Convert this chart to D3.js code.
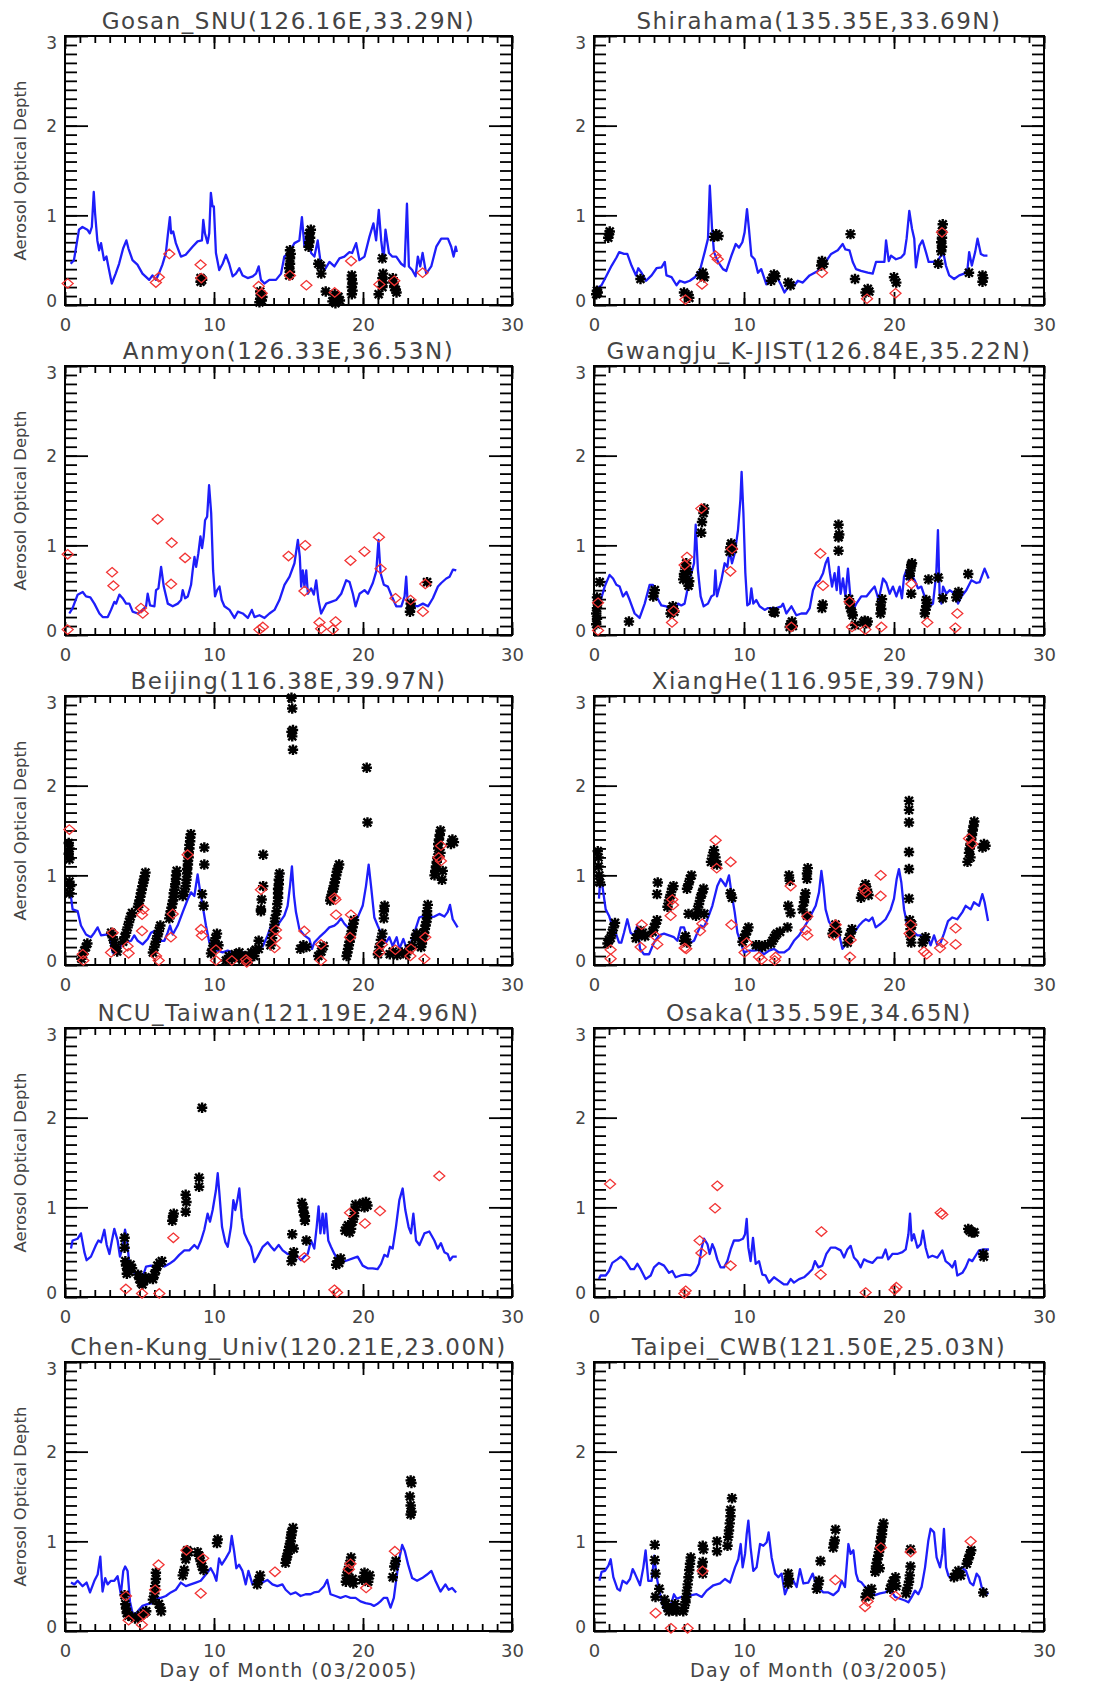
<!DOCTYPE html>
<html>
<head>
<meta charset="utf-8">
<script src="https://cdn.jsdelivr.net/npm/d3@7"></script>
<style>
  body { margin: 0; background: #fff; }
</style>
</head>
<body>
<div id="chart"></div>
<script>
// Model AOD (line), AERONET AOD (asterisks), MODIS AOD (diamonds)
// x = day of month (03/2005), y = aerosol optical depth

var gosanModel = [[0.38,0.46],[0.6,0.5],[0.94,0.84],[1.17,0.87],[1.5,0.84],[1.66,0.8],[1.8,0.87],[1.93,1.26],[2.02,1.02],[2.17,0.72],[2.29,0.61],[2.42,0.69],[2.62,0.5],[2.78,0.54],[2.91,0.43],[3.14,0.24],[3.4,0.35],[3.63,0.46],[3.9,0.63],[4.12,0.72],[4.26,0.63],[4.53,0.5],[4.86,0.45],[5.2,0.35],[5.65,0.28],[5.87,0.33],[6.1,0.28],[6.3,0.35],[6.54,0.45],[6.77,0.58],[6.9,0.78],[7.04,0.98],[7.12,0.8],[7.26,0.82],[7.44,0.69],[7.78,0.54],[8.1,0.56],[8.56,0.65],[8.9,0.71],[9.19,0.72],[9.28,0.95],[9.39,0.8],[9.57,0.69],[9.68,0.8],[9.79,1.25],[9.9,1.1],[9.99,1.1],[10.13,0.58],[10.35,0.39],[10.58,0.46],[10.8,0.56],[11.02,0.46],[11.25,0.32],[11.47,0.35],[11.7,0.41],[11.92,0.33],[12.26,0.3],[12.6,0.32],[12.82,0.35],[13.0,0.43],[13.15,0.28],[13.38,0.24],[13.71,0.28],[14.16,0.28],[14.5,0.35],[14.72,0.54],[15.06,0.59],[15.4,0.69],[15.73,0.72],[15.9,0.98],[16.07,0.65],[16.3,0.76],[16.52,0.58],[16.74,0.54],[16.96,0.72],[17.19,0.43],[17.41,0.39],[17.75,0.48],[18.08,0.43],[18.42,0.52],[18.75,0.54],[19.09,0.59],[19.27,0.58],[19.54,0.69],[19.76,0.5],[20.1,0.54],[20.43,0.76],[20.7,0.91],[20.88,0.72],[21.06,1.06],[21.22,0.72],[21.38,0.5],[21.51,0.84],[21.74,0.58],[21.96,0.54],[22.23,0.54],[22.56,0.46],[22.79,0.43],[22.95,1.13],[23.08,0.43],[23.3,0.39],[23.53,0.32],[23.68,0.54],[23.84,0.43],[24.0,0.58],[24.24,0.35],[24.58,0.43],[24.92,0.65],[25.25,0.74],[25.7,0.74],[25.92,0.65],[26.08,0.54],[26.22,0.65],[26.3,0.59]];
var gosanAeronet = [[9.1,0.26],[9.1,0.3],[9.2,0.28],[13.05,0.03],[13.1,0.07],[13.15,0.11],[13.2,0.05],[13.25,0.09],[13.1,0.15],[15.05,0.33],[15.1,0.37],[15.05,0.41],[15.1,0.46],[15.1,0.52],[15.15,0.57],[15.1,0.61],[16.35,0.65],[16.4,0.7],[16.45,0.75],[16.4,0.8],[16.5,0.84],[17.0,0.46],[17.15,0.44],[17.2,0.35],[17.5,0.15],[17.95,0.04],[18.05,0.08],[18.15,0.02],[18.25,0.06],[18.35,0.09],[18.1,0.12],[18.45,0.05],[19.25,0.12],[19.3,0.16],[19.25,0.2],[19.3,0.24],[19.25,0.29],[19.25,0.33],[21.05,0.12],[21.3,0.52],[21.3,0.2],[21.35,0.25],[21.3,0.3],[21.35,0.35],[22.0,0.3],[22.05,0.25],[22.1,0.2],[22.2,0.17],[22.25,0.14]];
var gosanModis = [[0.18,0.24],[6.1,0.25],[6.3,0.31],[7.0,0.57],[9.1,0.45],[9.15,0.3],[13.0,0.21],[13.2,0.13],[15.1,0.33],[16.2,0.22],[18.1,0.14],[19.2,0.49],[21.1,0.23],[22.1,0.27],[24.0,0.36]];

var shirahamaModel = [[0.18,0.18],[0.5,0.22],[0.84,0.33],[1.18,0.44],[1.5,0.53],[1.68,0.59],[2.0,0.57],[2.22,0.57],[2.5,0.44],[2.8,0.33],[2.95,0.41],[3.17,0.36],[3.46,0.27],[3.84,0.33],[4.17,0.41],[4.5,0.42],[4.72,0.48],[4.83,0.33],[5.17,0.31],[5.5,0.22],[5.72,0.27],[6.05,0.25],[6.39,0.27],[6.72,0.31],[7.05,0.38],[7.38,0.59],[7.6,0.74],[7.72,1.33],[7.87,0.85],[8.0,0.59],[8.27,0.48],[8.6,0.4],[8.82,0.38],[9.16,0.55],[9.45,0.68],[9.67,0.64],[9.89,0.7],[10.04,0.81],[10.2,1.07],[10.33,0.85],[10.49,0.55],[10.71,0.51],[10.93,0.36],[11.15,0.4],[11.49,0.23],[11.82,0.27],[12.15,0.33],[12.48,0.22],[12.7,0.14],[13.04,0.22],[13.37,0.22],[13.59,0.27],[13.92,0.25],[14.37,0.33],[14.92,0.38],[15.25,0.44],[15.48,0.49],[15.81,0.57],[16.25,0.61],[16.58,0.68],[16.76,0.62],[17.03,0.61],[17.25,0.48],[17.47,0.4],[17.8,0.38],[18.25,0.36],[18.58,0.35],[18.8,0.48],[19.13,0.48],[19.36,0.48],[19.47,0.72],[19.65,0.49],[19.8,0.55],[20.13,0.51],[20.47,0.53],[20.69,0.57],[20.84,0.74],[21.02,1.05],[21.2,0.85],[21.35,0.74],[21.46,0.42],[21.69,0.66],[21.9,0.72],[22.13,0.59],[22.31,0.48],[22.57,0.48],[22.9,0.49],[23.13,0.55],[23.28,0.59],[23.46,0.44],[23.68,0.33],[24.01,0.29],[24.35,0.33],[24.68,0.35],[24.9,0.4],[25.01,0.59],[25.19,0.44],[25.41,0.59],[25.57,0.74],[25.79,0.57],[26.01,0.55],[26.23,0.55]];
var shirahamaAeronet = [[0.15,0.12],[0.2,0.16],[0.25,0.14],[0.95,0.75],[1.0,0.79],[1.05,0.82],[3.1,0.29],[6.0,0.14],[6.3,0.11],[6.35,0.08],[7.1,0.33],[7.25,0.36],[7.35,0.31],[8.0,0.76],[8.15,0.79],[8.3,0.77],[11.8,0.27],[11.9,0.3],[12.0,0.34],[12.1,0.32],[12.95,0.25],[13.1,0.22],[15.15,0.44],[15.2,0.49],[15.3,0.46],[17.1,0.79],[17.4,0.29],[18.1,0.14],[18.25,0.18],[18.35,0.15],[20.0,0.31],[20.15,0.25],[22.95,0.46],[23.15,0.6],[23.2,0.65],[23.15,0.7],[23.2,0.75],[23.2,0.82],[23.25,0.9],[25.0,0.36],[25.9,0.26],[25.95,0.3],[25.9,0.33]];
var shirahamaModis = [[6.1,0.06],[7.2,0.23],[8.1,0.55],[8.25,0.51],[15.2,0.36],[18.2,0.07],[20.1,0.13],[23.2,0.81]];

var anmyonModel = [[0.29,0.24],[0.51,0.3],[0.85,0.45],[1.19,0.48],[1.41,0.43],[1.7,0.42],[1.97,0.35],[2.31,0.24],[2.53,0.2],[2.87,0.2],[3.09,0.28],[3.31,0.37],[3.43,0.35],[3.65,0.45],[3.87,0.41],[4.1,0.35],[4.32,0.35],[4.54,0.26],[4.88,0.24],[5.22,0.28],[5.44,0.32],[5.55,0.46],[5.71,0.33],[6.0,0.32],[6.11,0.5],[6.27,0.52],[6.45,0.76],[6.63,0.54],[6.9,0.35],[7.23,0.32],[7.57,0.35],[7.79,0.39],[7.9,0.5],[8.06,0.41],[8.24,0.43],[8.46,0.56],[8.57,0.72],[8.69,0.87],[8.8,0.76],[8.95,0.91],[9.09,1.1],[9.2,0.97],[9.31,1.1],[9.4,1.28],[9.54,1.32],[9.67,1.67],[9.81,1.36],[9.94,0.72],[10.07,0.43],[10.21,0.5],[10.37,0.54],[10.52,0.39],[10.7,0.32],[11.04,0.28],[11.37,0.19],[11.6,0.26],[11.93,0.24],[12.27,0.19],[12.54,0.28],[12.72,0.2],[13.05,0.22],[13.39,0.19],[13.72,0.24],[14.06,0.28],[14.39,0.39],[14.73,0.56],[15.07,0.65],[15.4,0.8],[15.63,1.06],[15.76,0.87],[15.85,0.54],[15.96,0.72],[16.07,0.54],[16.19,0.72],[16.3,0.46],[16.52,0.52],[16.7,0.45],[16.86,0.61],[17.01,0.39],[17.19,0.24],[17.53,0.35],[17.86,0.37],[18.2,0.39],[18.54,0.46],[18.87,0.61],[19.1,0.59],[19.32,0.46],[19.5,0.32],[19.77,0.46],[20.1,0.5],[20.33,0.46],[20.66,0.58],[20.89,0.71],[21.04,1.06],[21.18,0.69],[21.4,0.56],[21.67,0.54],[21.94,0.43],[22.23,0.32],[22.57,0.32],[22.79,0.43],[22.9,0.65],[23.01,0.32],[23.35,0.33],[23.68,0.32],[24.02,0.35],[24.36,0.32],[24.69,0.41],[25.03,0.54],[25.25,0.58],[25.59,0.63],[25.81,0.65],[26.04,0.73],[26.26,0.72]];
var anmyonAeronet = [[23.15,0.26],[23.2,0.3],[23.2,0.35],[24.3,0.59]];
var anmyonModis = [[0.18,0.9],[0.18,0.06],[3.16,0.7],[3.25,0.55],[5.1,0.3],[5.22,0.24],[6.22,1.29],[7.16,1.03],[7.12,0.57],[8.06,0.86],[13.05,0.06],[13.28,0.09],[15.0,0.88],[16.12,1.0],[16.07,0.49],[17.08,0.14],[17.19,0.07],[17.98,0.06],[18.16,0.15],[19.16,0.83],[20.1,0.93],[21.07,1.09],[21.18,0.74],[22.18,0.41],[23.19,0.39],[24.18,0.57],[24.02,0.26]];

var gwangjuModel = [[0.16,0.32],[0.38,0.35],[0.71,0.54],[1.04,0.67],[1.27,0.63],[1.49,0.56],[1.71,0.54],[1.93,0.43],[2.16,0.48],[2.38,0.39],[2.71,0.24],[3.04,0.19],[3.38,0.35],[3.71,0.56],[3.93,0.56],[4.16,0.43],[4.49,0.33],[4.82,0.32],[5.16,0.26],[5.38,0.26],[5.6,0.35],[5.82,0.33],[6.04,0.35],[6.27,0.54],[6.49,0.69],[6.67,0.8],[6.78,1.23],[6.93,0.72],[7.11,0.43],[7.31,0.32],[7.6,0.35],[7.82,0.43],[8.0,0.45],[8.09,0.72],[8.2,0.43],[8.49,0.61],[8.71,0.8],[8.89,0.76],[9.04,0.95],[9.2,0.8],[9.38,0.91],[9.6,1.17],[9.76,1.51],[9.84,1.82],[9.96,1.36],[10.09,0.69],[10.22,0.33],[10.38,0.35],[10.49,0.52],[10.62,0.35],[10.82,0.39],[11.04,0.32],[11.38,0.28],[11.6,0.3],[11.82,0.3],[12.16,0.3],[12.49,0.32],[12.6,0.35],[12.82,0.24],[13.16,0.32],[13.49,0.22],[13.82,0.24],[14.16,0.24],[14.38,0.3],[14.6,0.5],[14.82,0.58],[15.04,0.61],[15.27,0.69],[15.44,0.8],[15.6,0.86],[15.73,0.69],[15.87,0.54],[16.04,0.69],[16.18,0.5],[16.31,0.76],[16.44,0.46],[16.6,0.63],[16.76,0.43],[16.93,0.74],[17.11,0.39],[17.27,0.28],[17.49,0.35],[17.82,0.43],[18.16,0.43],[18.49,0.5],[18.71,0.54],[18.98,0.39],[19.27,0.63],[19.49,0.58],[19.71,0.46],[19.93,0.54],[20.16,0.43],[20.38,0.54],[20.53,0.41],[20.67,0.65],[20.82,0.72],[20.98,0.61],[21.16,0.67],[21.38,0.61],[21.6,0.52],[21.82,0.54],[22.04,0.43],[22.38,0.32],[22.6,0.35],[22.82,0.69],[22.93,1.17],[23.04,0.46],[23.16,0.35],[23.27,0.54],[23.49,0.46],[23.71,0.5],[24.04,0.46],[24.27,0.35],[24.49,0.43],[24.82,0.5],[25.16,0.61],[25.49,0.58],[25.71,0.59],[26.04,0.74],[26.31,0.63]];
var gwangjuAeronet = [[0.15,0.12],[0.2,0.18],[0.15,0.24],[0.2,0.3],[0.25,0.36],[0.2,0.42],[0.38,0.59],[2.33,0.15],[3.95,0.43],[4.0,0.47],[4.05,0.5],[5.1,0.24],[5.15,0.28],[5.25,0.32],[5.35,0.26],[5.95,0.62],[6.0,0.68],[6.1,0.75],[6.15,0.8],[6.3,0.55],[6.35,0.6],[6.25,0.7],[7.15,1.14],[7.2,1.26],[7.3,1.36],[7.35,1.41],[9.05,0.93],[9.1,0.98],[9.15,1.02],[9.25,0.96],[11.95,0.26],[12.05,0.25],[13.05,0.09],[13.1,0.12],[13.2,0.15],[13.25,0.1],[15.2,0.3],[15.25,0.34],[16.3,0.94],[16.3,1.09],[16.35,1.12],[16.3,1.23],[17.0,0.4],[17.05,0.35],[17.1,0.3],[17.2,0.25],[17.25,0.22],[17.4,0.11],[17.95,0.14],[18.05,0.16],[18.15,0.13],[18.25,0.15],[19.1,0.24],[19.15,0.29],[19.1,0.34],[19.2,0.4],[21.05,0.66],[21.1,0.72],[21.15,0.78],[21.2,0.8],[21.15,0.46],[22.05,0.24],[22.1,0.28],[22.15,0.32],[22.2,0.36],[22.15,0.39],[22.3,0.62],[22.95,0.64],[23.25,0.41],[24.15,0.42],[24.25,0.45],[24.3,0.48],[24.95,0.68]];
var gwangjuModis = [[0.27,0.05],[0.27,0.36],[5.2,0.14],[5.31,0.27],[6.2,0.87],[6.04,0.78],[7.16,1.41],[9.2,0.96],[9.09,0.71],[13.16,0.09],[15.09,0.91],[15.27,0.55],[17.04,0.37],[17.2,0.09],[18.09,0.06],[19.16,0.09],[21.16,0.57],[22.22,0.14],[24.09,0.08],[24.22,0.24]];

var beijingModel = [[0.34,0.84],[0.51,0.62],[0.85,0.6],[1.07,0.44],[1.41,0.34],[1.74,0.31],[1.97,0.36],[2.19,0.42],[2.42,0.33],[2.75,0.34],[2.98,0.34],[3.2,0.14],[3.53,0.12],[3.76,0.21],[4.09,0.25],[4.43,0.27],[4.65,0.33],[4.88,0.27],[5.21,0.23],[5.55,0.29],[5.77,0.36],[6.0,0.38],[6.11,0.31],[6.33,0.27],[6.67,0.27],[6.89,0.36],[7.05,0.44],[7.23,0.34],[7.56,0.44],[7.9,0.59],[8.23,0.73],[8.46,0.81],[8.68,0.77],[8.9,1.01],[9.08,0.81],[9.24,0.66],[9.46,0.44],[9.69,0.25],[9.91,0.18],[10.25,0.16],[10.58,0.14],[10.92,0.16],[11.25,0.14],[11.59,0.12],[11.92,0.14],[12.26,0.13],[12.6,0.16],[12.93,0.18],[13.27,0.21],[13.6,0.33],[13.83,0.44],[14.05,0.38],[14.38,0.47],[14.72,0.55],[14.94,0.66],[15.1,0.88],[15.23,1.1],[15.37,0.77],[15.5,0.59],[15.73,0.4],[16.06,0.33],[16.4,0.29],[16.58,0.18],[16.73,0.25],[17.07,0.31],[17.4,0.36],[17.74,0.42],[18.08,0.44],[18.3,0.47],[18.52,0.52],[18.75,0.46],[18.97,0.42],[19.31,0.46],[19.64,0.53],[19.98,0.66],[20.2,0.88],[20.38,1.12],[20.54,0.88],[20.76,0.53],[20.98,0.44],[21.27,0.33],[21.54,0.25],[21.77,0.31],[21.99,0.21],[22.26,0.31],[22.44,0.18],[22.71,0.29],[22.93,0.18],[23.15,0.21],[23.45,0.36],[23.78,0.53],[24.12,0.55],[24.45,0.53],[24.79,0.54],[25.12,0.57],[25.46,0.54],[25.68,0.59],[25.84,0.67],[26.02,0.51],[26.35,0.42]];
var beijingAeronet = [[0.25,1.36],[0.3,1.3],[0.25,1.24],[0.3,1.18],[0.3,0.93],[0.35,0.88],[0.3,0.8],[1.1,0.07],[1.2,0.12],[1.3,0.16],[1.4,0.2],[1.5,0.24],[3.1,0.36],[3.2,0.31],[3.3,0.25],[3.4,0.2],[3.5,0.15],[3.9,0.26],[4.0,0.31],[4.1,0.36],[4.2,0.42],[4.3,0.48],[4.4,0.54],[4.5,0.58],[4.9,0.65],[4.95,0.68],[5.0,0.72],[5.05,0.76],[5.1,0.8],[5.15,0.84],[5.2,0.88],[5.25,0.92],[5.3,0.95],[5.35,0.99],[5.4,1.03],[5.9,0.14],[6.0,0.2],[6.1,0.26],[6.2,0.32],[6.3,0.38],[6.4,0.44],[7.0,0.52],[7.05,0.56],[7.1,0.6],[7.15,0.64],[7.2,0.68],[7.25,0.72],[7.3,0.76],[7.3,0.8],[7.35,0.84],[7.4,0.9],[7.45,0.96],[7.45,1.0],[7.5,1.05],[7.9,0.77],[8.0,0.82],[8.1,0.88],[8.15,0.95],[8.2,1.02],[8.2,1.07],[8.25,1.12],[8.25,1.16],[8.3,1.2],[8.3,1.25],[8.35,1.3],[8.35,1.34],[8.4,1.38],[8.4,1.42],[8.45,1.46],[9.35,1.31],[9.35,1.12],[9.2,0.79],[9.3,0.66],[9.8,0.13],[9.9,0.18],[10.0,0.24],[10.1,0.3],[10.2,0.35],[10.3,0.22],[10.8,0.05],[11.0,0.1],[11.2,0.07],[11.4,0.12],[11.6,0.09],[11.7,0.14],[11.9,0.06],[12.1,0.1],[12.3,0.05],[12.5,0.14],[12.7,0.1],[12.8,0.17],[13.0,0.18],[13.0,0.27],[13.15,0.6],[13.15,0.62],[13.2,0.73],[13.3,0.88],[13.3,1.23],[13.8,0.22],[13.9,0.3],[14.0,0.38],[14.05,0.45],[14.1,0.52],[14.2,0.6],[14.25,0.68],[14.3,0.75],[14.3,0.8],[14.3,0.85],[14.35,0.9],[14.35,0.95],[14.4,1.02],[15.2,2.98],[15.25,2.86],[15.2,2.6],[15.25,2.55],[15.3,2.62],[15.3,2.4],[15.8,0.18],[16.0,0.22],[16.2,0.2],[17.0,0.1],[17.2,0.15],[17.35,0.21],[17.8,0.72],[17.85,0.75],[17.9,0.78],[17.95,0.82],[18.0,0.85],[18.05,0.88],[18.1,0.92],[18.15,0.96],[18.2,1.0],[18.25,1.04],[18.3,1.07],[18.4,1.12],[18.9,0.1],[18.95,0.14],[19.0,0.18],[19.05,0.22],[19.1,0.26],[19.15,0.3],[19.2,0.34],[19.25,0.38],[19.3,0.42],[19.35,0.46],[19.4,0.5],[20.25,2.2],[20.3,1.59],[21.0,0.12],[21.1,0.2],[21.2,0.28],[21.3,0.35],[21.4,0.52],[21.4,0.6],[21.45,0.66],[21.8,0.12],[22.0,0.15],[22.3,0.11],[22.6,0.14],[22.9,0.12],[23.1,0.18],[23.3,0.22],[23.5,0.3],[23.6,0.35],[23.9,0.2],[23.95,0.24],[24.0,0.28],[24.05,0.32],[24.1,0.36],[24.15,0.4],[24.2,0.44],[24.25,0.48],[24.3,0.52],[24.3,0.56],[24.3,0.6],[24.35,0.67],[24.8,1.0],[24.85,1.05],[24.9,1.1],[24.95,1.15],[25.0,1.2],[25.05,1.3],[25.05,1.35],[25.1,1.4],[25.15,1.45],[25.2,1.5],[25.3,0.95],[25.35,1.05],[25.2,1.25],[25.9,1.35],[26.0,1.4],[26.1,1.37]];
var beijingModis = [[0.29,1.51],[1.19,0.12],[1.23,0.05],[3.2,0.36],[3.09,0.14],[4.2,0.21],[4.27,0.13],[5.26,0.62],[5.17,0.56],[5.17,0.38],[6.11,0.1],[6.29,0.05],[7.23,0.57],[7.11,0.31],[8.23,1.23],[9.13,0.4],[9.19,0.33],[10.13,0.17],[10.13,0.05],[11.2,0.05],[12.15,0.06],[12.2,0.03],[13.15,0.84],[14.16,0.39],[14.16,0.3],[14.07,0.19],[16.06,0.38],[17.18,0.23],[17.18,0.05],[18.08,0.75],[18.15,0.73],[18.19,0.56],[19.19,0.56],[19.13,0.31],[21.27,0.23],[21.1,0.14],[22.17,0.17],[23.22,0.18],[23.18,0.1],[24.18,0.31],[24.12,0.07],[25.23,1.33],[25.08,1.2],[25.23,1.16]];

var xiangheModel = [[0.33,0.74],[0.44,1.01],[0.56,0.88],[0.78,0.62],[1.0,0.55],[1.22,0.44],[1.44,0.36],[1.67,0.25],[1.82,0.25],[2.0,0.36],[2.22,0.51],[2.44,0.36],[2.67,0.33],[2.89,0.44],[3.07,0.18],[3.33,0.12],[3.67,0.12],[4.0,0.25],[4.33,0.33],[4.67,0.35],[5.0,0.33],[5.33,0.31],[5.56,0.27],[5.78,0.42],[6.0,0.42],[6.22,0.29],[6.44,0.25],[6.67,0.27],[6.89,0.36],[7.11,0.44],[7.33,0.42],[7.56,0.51],[7.89,0.66],[8.22,0.88],[8.44,0.96],[8.62,0.92],[8.78,0.88],[9.0,1.0],[9.16,0.81],[9.38,0.59],[9.56,0.36],[9.78,0.25],[10.0,0.14],[10.33,0.16],[10.67,0.16],[11.0,0.17],[11.33,0.12],[11.67,0.16],[12.0,0.18],[12.33,0.14],[12.67,0.14],[13.0,0.18],[13.33,0.27],[13.67,0.33],[14.0,0.42],[14.33,0.51],[14.56,0.59],[14.78,0.66],[15.0,0.81],[15.16,1.05],[15.29,0.88],[15.44,0.62],[15.67,0.48],[16.0,0.4],[16.33,0.35],[16.56,0.18],[16.78,0.23],[17.0,0.29],[17.33,0.36],[17.67,0.44],[17.89,0.48],[18.11,0.51],[18.33,0.49],[18.56,0.53],[18.78,0.42],[19.11,0.46],[19.44,0.51],[19.78,0.62],[20.0,0.74],[20.18,0.96],[20.33,1.07],[20.49,0.92],[20.67,0.62],[20.89,0.44],[21.22,0.38],[21.56,0.33],[21.78,0.33],[22.0,0.25],[22.22,0.33],[22.44,0.22],[22.67,0.33],[22.89,0.22],[23.11,0.25],[23.33,0.35],[23.6,0.49],[23.89,0.53],[24.22,0.51],[24.56,0.59],[24.78,0.66],[25.11,0.62],[25.33,0.7],[25.67,0.66],[25.89,0.79],[26.04,0.7],[26.27,0.49]];
var xiangheAeronet = [[0.25,1.27],[0.3,1.2],[0.3,1.1],[0.35,1.0],[0.4,0.92],[0.9,0.24],[1.0,0.28],[1.1,0.3],[1.2,0.36],[1.3,0.42],[1.4,0.47],[2.8,0.3],[2.95,0.34],[3.1,0.38],[3.25,0.36],[3.4,0.32],[3.9,0.37],[4.0,0.42],[4.1,0.46],[4.2,0.5],[4.2,0.79],[4.25,0.92],[4.9,0.65],[5.0,0.72],[5.1,0.78],[5.2,0.85],[5.3,0.88],[6.0,0.27],[6.1,0.32],[6.2,0.25],[6.3,0.57],[6.2,0.85],[6.3,0.9],[6.4,0.96],[6.5,1.0],[6.8,0.55],[6.9,0.62],[7.0,0.68],[7.1,0.75],[7.2,0.8],[7.3,0.85],[7.35,0.57],[7.8,1.15],[7.9,1.22],[8.0,1.28],[8.1,1.2],[8.2,1.12],[9.1,0.8],[9.2,0.75],[9.9,0.26],[10.0,0.3],[10.1,0.34],[10.2,0.38],[10.3,0.42],[10.8,0.22],[11.0,0.22],[11.2,0.2],[11.4,0.22],[11.8,0.24],[11.9,0.27],[12.0,0.3],[12.1,0.33],[12.2,0.35],[12.4,0.37],[12.9,0.42],[12.95,0.66],[13.1,0.58],[13.0,1.0],[13.05,0.94],[13.9,0.62],[14.0,0.7],[14.05,0.76],[14.1,0.8],[14.2,0.55],[14.2,0.96],[14.2,1.02],[14.25,1.08],[15.9,0.35],[16.0,0.4],[16.1,0.45],[16.2,0.37],[16.9,0.25],[17.0,0.3],[17.1,0.35],[17.2,0.4],[17.8,0.75],[17.9,0.8],[18.0,0.86],[18.1,0.9],[18.2,0.84],[18.3,0.78],[21.0,1.83],[21.0,1.73],[21.0,1.59],[21.0,1.26],[21.0,1.07],[21.0,0.74],[21.05,0.5],[21.1,0.4],[21.1,0.32],[21.15,0.25],[21.2,0.45],[21.9,0.25],[22.0,0.28],[22.1,0.31],[24.9,1.15],[25.0,1.25],[25.05,1.3],[25.1,1.35],[25.15,1.4],[25.2,1.45],[25.25,1.5],[25.3,1.55],[25.35,1.6],[25.1,1.2],[25.9,1.31],[26.0,1.35],[26.1,1.33]];
var xiangheModis = [[1.11,0.17],[1.11,0.07],[3.18,0.45],[3.11,0.2],[4.11,0.32],[4.22,0.23],[5.11,0.55],[5.22,0.73],[5.27,0.67],[6.04,0.19],[6.15,0.18],[7.07,0.38],[7.22,0.46],[8.11,1.39],[8.18,1.08],[9.11,1.15],[9.16,0.45],[10.18,0.25],[10.04,0.14],[11.0,0.09],[11.18,0.06],[12.11,0.09],[12.05,0.05],[13.11,0.88],[14.22,0.54],[14.11,0.39],[14.22,0.33],[16.11,0.45],[16.0,0.33],[17.11,0.28],[17.07,0.09],[18.0,0.85],[18.11,0.81],[19.11,1.0],[19.11,0.77],[21.11,0.45],[21.04,0.35],[22.0,0.15],[22.18,0.12],[23.22,0.25],[23.07,0.19],[24.11,0.41],[24.11,0.23],[25.0,1.41],[25.22,1.35]];

var ncuModel = [[0.4,0.54],[0.51,0.63],[0.85,0.65],[1.07,0.71],[1.3,0.5],[1.45,0.41],[1.74,0.45],[2.08,0.58],[2.24,0.63],[2.42,0.61],[2.64,0.75],[2.8,0.58],[2.98,0.48],[3.15,0.63],[3.31,0.76],[3.53,0.63],[3.69,0.45],[3.87,0.56],[4.03,0.75],[4.16,0.63],[4.32,0.37],[4.54,0.3],[4.77,0.24],[4.99,0.28],[5.21,0.22],[5.44,0.34],[5.77,0.35],[6.11,0.34],[6.33,0.37],[6.67,0.34],[7.0,0.37],[7.34,0.41],[7.67,0.47],[8.01,0.52],[8.34,0.52],[8.68,0.58],[8.9,0.54],[9.13,0.63],[9.35,0.75],[9.57,0.93],[9.73,0.84],[9.91,0.97],[10.13,1.19],[10.25,1.38],[10.36,1.16],[10.54,0.78],[10.76,0.61],[10.92,0.56],[11.14,0.78],[11.3,1.08],[11.43,0.97],[11.59,1.1],[11.7,1.21],[11.86,0.89],[12.04,0.71],[12.26,0.63],[12.48,0.56],[12.71,0.39],[12.93,0.45],[13.27,0.56],[13.6,0.61],[13.83,0.56],[14.05,0.52],[14.34,0.58],[14.61,0.52],[14.94,0.48],[15.28,0.48],[15.62,0.45],[15.84,0.41],[16.06,0.45],[16.29,0.48],[16.51,0.63],[16.73,0.54],[16.89,0.78],[17.02,1.01],[17.14,0.71],[17.29,0.93],[17.4,0.71],[17.52,0.93],[17.67,0.63],[17.85,0.56],[18.08,0.48],[18.3,0.43],[18.63,0.39],[18.97,0.41],[19.31,0.43],[19.64,0.45],[19.98,0.35],[20.31,0.32],[20.65,0.32],[20.98,0.31],[21.21,0.37],[21.43,0.47],[21.65,0.45],[21.81,0.56],[21.99,0.54],[22.21,0.78],[22.44,1.08],[22.66,1.21],[22.84,0.97],[23.06,0.78],[23.22,0.71],[23.38,0.93],[23.56,0.63],[23.79,0.58],[24.12,0.71],[24.45,0.73],[24.79,0.63],[25.01,0.54],[25.23,0.6],[25.46,0.5],[25.68,0.48],[25.84,0.41],[26.02,0.45],[26.29,0.45]];
var ncuAeronet = [[4.0,0.66],[4.0,0.55],[4.05,0.4],[4.1,0.35],[4.2,0.3],[4.3,0.28],[4.4,0.36],[4.5,0.32],[4.15,0.26],[4.9,0.25],[5.0,0.2],[5.1,0.16],[5.2,0.14],[5.3,0.18],[5.4,0.22],[5.5,0.2],[5.9,0.2],[6.0,0.25],[6.1,0.3],[6.2,0.35],[6.35,0.38],[6.5,0.4],[7.2,0.85],[7.25,0.9],[7.3,0.93],[8.1,1.14],[8.15,1.06],[8.1,0.95],[9.0,1.33],[9.0,1.23],[9.2,2.11],[15.25,0.7],[15.2,0.4],[15.3,0.45],[15.35,0.5],[15.9,1.05],[16.0,1.0],[16.0,0.95],[16.1,0.9],[16.1,0.85],[16.2,0.63],[18.2,0.36],[18.3,0.4],[18.4,0.38],[18.5,0.43],[18.8,0.74],[18.9,0.77],[19.0,0.8],[19.1,0.72],[19.2,0.76],[19.3,0.84],[19.4,0.9],[19.45,0.97],[19.5,1.03],[20.0,1.05],[20.1,1.0],[20.2,1.06],[20.3,1.02]];
var ncuModis = [[4.09,0.09],[5.17,0.04],[6.33,0.04],[7.27,0.66],[16.06,0.44],[18.08,0.08],[18.26,0.05],[19.13,0.94],[20.13,0.82],[21.14,0.96],[25.12,1.35]];

var osakaModel = [[0.33,0.2],[0.44,0.24],[0.78,0.24],[1.0,0.29],[1.22,0.38],[1.56,0.42],[1.78,0.45],[2.11,0.4],[2.44,0.31],[2.67,0.31],[2.89,0.37],[3.11,0.31],[3.44,0.2],[3.78,0.24],[4.0,0.33],[4.33,0.38],[4.67,0.35],[5.0,0.27],[5.22,0.29],[5.44,0.22],[5.78,0.24],[6.11,0.25],[6.44,0.24],[6.78,0.29],[7.0,0.37],[7.18,0.55],[7.33,0.65],[7.56,0.59],[7.71,0.48],[7.89,0.59],[8.04,0.53],[8.22,0.42],[8.44,0.33],[8.67,0.33],[8.89,0.4],[9.11,0.53],[9.33,0.63],[9.67,0.63],[9.93,0.65],[10.07,0.7],[10.18,0.87],[10.29,0.55],[10.44,0.4],[10.6,0.66],[10.78,0.37],[11.0,0.4],[11.22,0.25],[11.44,0.24],[11.67,0.16],[12.0,0.22],[12.33,0.18],[12.67,0.14],[12.89,0.14],[13.11,0.2],[13.33,0.16],[13.67,0.2],[14.0,0.22],[14.33,0.27],[14.56,0.31],[14.73,0.4],[14.96,0.33],[15.22,0.35],[15.49,0.48],[15.78,0.55],[16.11,0.55],[16.44,0.52],[16.67,0.44],[16.89,0.53],[17.11,0.57],[17.33,0.44],[17.56,0.4],[17.78,0.33],[18.0,0.42],[18.22,0.4],[18.56,0.38],[18.89,0.44],[19.22,0.44],[19.44,0.53],[19.62,0.42],[19.89,0.48],[20.22,0.48],[20.56,0.5],[20.78,0.53],[20.96,0.7],[21.07,0.93],[21.18,0.63],[21.33,0.7],[21.56,0.55],[21.78,0.59],[21.93,0.74],[22.11,0.55],[22.29,0.44],[22.56,0.46],[22.89,0.44],[23.22,0.52],[23.44,0.4],[23.67,0.37],[23.89,0.33],[24.07,0.4],[24.22,0.24],[24.56,0.27],[24.78,0.33],[25.0,0.42],[25.22,0.4],[25.44,0.46],[25.67,0.52],[26.0,0.53],[26.33,0.53]];
var osakaAeronet = [[24.95,0.76],[25.05,0.74],[25.2,0.72],[25.35,0.72],[25.95,0.48],[25.98,0.45]];
var osakaModis = [[1.07,1.26],[6.11,0.07],[6.02,0.04],[7.04,0.63],[7.16,0.49],[8.22,1.24],[8.07,0.99],[9.11,0.35],[15.16,0.73],[15.11,0.25],[18.11,0.05],[20.16,0.11],[20.04,0.08],[23.11,0.94],[23.22,0.92]];

var chenKungModel = [[0.4,0.54],[0.63,0.52],[0.85,0.56],[1.18,0.5],[1.45,0.54],[1.68,0.43],[1.97,0.56],[2.19,0.63],[2.37,0.83],[2.52,0.44],[2.7,0.59],[2.86,0.52],[3.08,0.56],[3.31,0.56],[3.53,0.61],[3.75,0.41],[3.91,0.67],[4.04,0.72],[4.2,0.67],[4.36,0.33],[4.53,0.2],[4.76,0.19],[4.98,0.24],[5.2,0.28],[5.54,0.3],[5.87,0.31],[6.1,0.37],[6.43,0.37],[6.77,0.39],[7.1,0.43],[7.44,0.46],[7.77,0.54],[8.11,0.5],[8.44,0.52],[8.78,0.54],[9.11,0.56],[9.45,0.63],[9.78,0.7],[10.01,0.63],[10.16,0.56],[10.34,0.81],[10.52,0.74],[10.79,0.81],[11.06,0.89],[11.19,1.06],[11.35,0.89],[11.5,0.7],[11.68,0.74],[11.91,0.67],[12.13,0.52],[12.31,0.67],[12.58,0.52],[12.91,0.56],[13.25,0.54],[13.58,0.57],[13.92,0.52],[14.25,0.5],[14.59,0.52],[14.81,0.46],[15.14,0.41],[15.48,0.43],[15.81,0.39],[16.15,0.41],[16.48,0.41],[16.71,0.43],[17.04,0.44],[17.38,0.5],[17.6,0.57],[17.82,0.41],[18.16,0.39],[18.49,0.37],[18.83,0.39],[19.16,0.37],[19.5,0.37],[19.83,0.33],[20.17,0.31],[20.5,0.3],[20.73,0.28],[20.95,0.3],[21.17,0.33],[21.4,0.37],[21.62,0.37],[21.85,0.26],[22.07,0.37],[22.22,0.56],[22.4,0.78],[22.63,0.96],[22.81,0.89],[23.03,0.74],[23.3,0.59],[23.63,0.56],[23.97,0.59],[24.3,0.63],[24.59,0.67],[24.86,0.56],[25.2,0.44],[25.53,0.52],[25.75,0.46],[25.98,0.48],[26.25,0.43]];
var chenKungAeronet = [[4.0,0.4],[4.05,0.3],[4.1,0.25],[4.15,0.2],[4.25,0.17],[4.5,0.16],[4.7,0.14],[4.9,0.15],[5.1,0.18],[5.3,0.2],[5.45,0.22],[5.9,0.35],[6.0,0.42],[6.05,0.5],[6.1,0.58],[6.1,0.65],[6.3,0.3],[6.4,0.26],[6.45,0.22],[7.9,0.62],[8.0,0.68],[8.1,0.8],[8.15,0.85],[8.2,0.9],[8.3,0.88],[8.9,0.88],[9.0,0.84],[9.1,0.78],[9.2,0.72],[9.3,0.68],[10.2,0.98],[10.25,1.02],[12.9,0.52],[13.0,0.57],[13.1,0.62],[14.8,0.76],[14.85,0.8],[14.9,0.83],[14.95,0.86],[15.0,0.9],[15.05,0.94],[15.1,0.97],[15.15,1.0],[15.15,1.04],[15.2,1.07],[15.2,1.1],[15.3,1.15],[15.35,0.92],[18.85,0.55],[18.9,0.62],[19.0,0.68],[19.1,0.75],[19.2,0.82],[19.3,0.58],[19.35,0.53],[19.95,0.57],[20.1,0.65],[20.2,0.6],[20.35,0.55],[20.45,0.62],[22.0,0.6],[22.1,0.72],[22.2,0.78],[23.2,1.68],[23.25,1.65],[23.15,1.5],[23.2,1.4],[23.25,1.33],[23.2,1.3]];
var chenKungModis = [[4.09,0.39],[4.27,0.12],[5.16,0.07],[5.27,0.18],[6.05,0.46],[6.28,0.74],[8.15,0.9],[9.27,0.81],[9.11,0.42],[14.09,0.66],[19.16,0.75],[19.05,0.69],[20.21,0.48],[22.14,0.89]];

var taipeiModel = [[0.36,0.56],[0.51,0.66],[0.73,0.67],[0.96,0.73],[1.11,0.8],[1.29,0.6],[1.56,0.47],[1.73,0.45],[1.91,0.56],[2.18,0.53],[2.4,0.58],[2.58,0.69],[2.73,0.64],[3.07,0.51],[3.29,0.71],[3.44,0.9],[3.62,0.56],[3.84,0.56],[4.02,0.84],[4.18,0.6],[4.36,0.45],[4.51,0.34],[4.73,0.23],[4.96,0.25],[5.18,0.32],[5.33,0.41],[5.51,0.36],[5.84,0.38],[6.18,0.38],[6.51,0.4],[6.84,0.41],[7.18,0.38],[7.51,0.45],[7.96,0.51],[8.4,0.53],[8.73,0.58],[9.07,0.54],[9.4,0.71],[9.62,0.8],[9.78,0.97],[9.91,0.71],[10.07,0.86],[10.18,1.08],[10.29,1.23],[10.44,0.93],[10.62,0.67],[10.84,0.71],[11.07,0.97],[11.29,0.95],[11.51,0.99],[11.64,1.1],[11.84,0.82],[12.07,0.64],[12.29,0.6],[12.51,0.64],[12.73,0.41],[13.02,0.53],[13.29,0.56],[13.51,0.49],[13.73,0.69],[13.96,0.53],[14.29,0.54],[14.58,0.64],[14.73,0.56],[14.96,0.49],[15.29,0.43],[15.62,0.43],[15.96,0.4],[16.29,0.45],[16.51,0.56],[16.73,0.49],[16.96,0.97],[17.11,0.86],[17.29,0.9],[17.47,0.64],[17.62,0.56],[17.84,0.54],[18.07,0.49],[18.29,0.47],[18.51,0.45],[18.73,0.4],[19.07,0.42],[19.4,0.43],[19.73,0.47],[20.07,0.38],[20.4,0.36],[20.73,0.34],[20.96,0.32],[21.18,0.38],[21.4,0.45],[21.62,0.41],[21.84,0.49],[22.07,0.71],[22.29,1.01],[22.44,1.14],[22.67,1.1],[22.84,0.82],[23.07,0.71],[23.22,0.86],[23.33,1.14],[23.47,0.71],[23.62,0.62],[23.84,0.58],[24.18,0.66],[24.51,0.71],[24.8,0.67],[25.07,0.54],[25.29,0.51],[25.51,0.64],[25.69,0.6],[25.84,0.49],[26.18,0.43],[26.29,0.41]];
var taipeiAeronet = [[4.05,0.96],[4.05,0.79],[4.1,0.64],[4.35,0.47],[4.1,0.38],[4.7,0.35],[4.8,0.3],[4.9,0.26],[5.0,0.22],[5.2,0.23],[5.3,0.25],[5.4,0.3],[5.5,0.22],[5.95,0.22],[6.0,0.26],[6.1,0.32],[6.15,0.38],[6.2,0.45],[6.25,0.52],[6.3,0.6],[6.35,0.68],[6.4,0.75],[6.45,0.82],[7.25,0.64],[7.2,0.72],[7.25,0.77],[7.3,0.91],[7.25,0.95],[8.2,0.89],[8.2,1.0],[8.9,0.95],[8.95,1.05],[9.0,1.12],[9.05,1.2],[9.1,1.28],[9.1,1.35],[9.2,1.48],[12.95,0.53],[13.0,0.58],[12.95,0.64],[14.85,0.47],[14.95,0.52],[15.0,0.56],[15.1,0.78],[15.95,0.93],[16.0,0.98],[16.05,1.01],[16.1,1.13],[18.1,0.38],[18.2,0.42],[18.3,0.45],[18.4,0.4],[18.5,0.47],[18.75,0.66],[18.8,0.72],[18.85,0.76],[18.9,0.8],[18.95,0.84],[19.0,0.88],[19.05,0.92],[19.1,0.95],[19.1,1.0],[19.15,1.05],[19.2,1.08],[19.2,1.12],[19.25,1.16],[19.3,1.2],[19.05,0.7],[19.75,0.47],[19.85,0.52],[19.95,0.56],[20.1,0.6],[20.15,0.5],[20.8,0.42],[20.9,0.48],[21.0,0.55],[21.05,0.62],[21.1,0.72],[21.1,0.91],[24.0,0.6],[24.15,0.64],[24.3,0.67],[24.45,0.62],[24.85,0.75],[24.95,0.8],[25.05,0.85],[25.15,0.9],[25.95,0.43]];
var taipeiModis = [[4.11,0.2],[5.13,0.03],[6.24,0.03],[7.24,0.67],[16.09,0.57],[18.07,0.27],[18.24,0.33],[19.13,0.93],[20.09,0.39],[21.11,0.88],[25.11,1.0]];

var stationNames = ["Gosan_SNU(126.16E,33.29N)", "Shirahama(135.35E,33.69N)",
  "Anmyon(126.33E,36.53N)", "Gwangju_K-JIST(126.84E,35.22N)",
  "Beijing(116.38E,39.97N)", "XiangHe(116.95E,39.79N)",
  "NCU_Taiwan(121.19E,24.96N)", "Osaka(135.59E,34.65N)",
  "Chen-Kung_Univ(120.21E,23.00N)", "Taipei_CWB(121.50E,25.03N)"];
var modelSeries = [gosanModel, shirahamaModel, anmyonModel, gwangjuModel, beijingModel, xiangheModel, ncuModel, osakaModel, chenKungModel, taipeiModel];
var aeronetSeries = [gosanAeronet, shirahamaAeronet, anmyonAeronet, gwangjuAeronet, beijingAeronet, xiangheAeronet, ncuAeronet, osakaAeronet, chenKungAeronet, taipeiAeronet];
var modisSeries = [gosanModis, shirahamaModis, anmyonModis, gwangjuModis, beijingModis, xiangheModis, ncuModis, osakaModis, chenKungModis, taipeiModis];

var xMajor = [0, 10, 20, 30];
var yMajor = [0, 1, 2, 3];

// page + panel geometry
var svgWidth = 1096;
var svgHeight = 1686;
var colLeft = [65, 594];
var colWidth = [447, 450];
var rowTop = [36, 366, 696, 1028, 1362];
var plotHeight = 269;

var textColor = "#444";
var fontFamily = "'DejaVu Sans', sans-serif";

var svg = d3.select("#chart")
  .append("svg")
  .attr("width", svgWidth)
  .attr("height", svgHeight)
  .style("display", "block")
  .style("background", "#fff");

// IDL style asterisk: plus sign overlaid with an x
var asterisk = {
  draw: function(context, size) {
    var r = Math.sqrt(size) / 2;
    var d = r * 0.78;
    context.moveTo(-r, 0); context.lineTo(r, 0);
    context.moveTo(0, -r); context.lineTo(0, r);
    context.moveTo(-d, -d); context.lineTo(d, d);
    context.moveTo(-d, d); context.lineTo(d, -d);
  }
};

// wide diamond outline
var diamond = {
  draw: function(context, size) {
    var w = Math.sqrt(size) / 2;
    var h = w * 0.86;
    context.moveTo(0, -h);
    context.lineTo(w, 0);
    context.lineTo(0, h);
    context.lineTo(-w, 0);
    context.closePath();
  }
};

function styleAxis(g) {
  g.select(".domain").remove();
  g.selectAll("line").attr("stroke", "#000").attr("stroke-width", 1.8);
  g.selectAll("text")
    .attr("fill", textColor)
    .style("font-family", fontFamily);
}

stationNames.forEach(function(name, i) {
  var col = i % 2;
  var row = Math.floor(i / 2);
  var left = colLeft[col];
  var top = rowTop[row];
  var width = colWidth[col];

  var xScale = d3.scaleLinear().domain([0, 30]).range([left, left + width]);
  var yScale = d3.scaleLinear().domain([0, 3]).range([top + plotHeight, top]);

  var panel = svg.append("g").attr("class", "panel");

  // minor + major ticks on all four sides, pointing inward
  var xMinor = d3.range(31);
  var yMinor = d3.range(31).map(function(k) { return k / 10; });

  panel.append("g")
    .attr("transform", "translate(0," + yScale(0) + ")")
    .call(d3.axisBottom(xScale).tickValues(xMinor).tickSize(-7).tickFormat(""))
    .call(styleAxis);
  panel.append("g")
    .attr("transform", "translate(0," + yScale(0) + ")")
    .call(d3.axisBottom(xScale).tickValues(xMajor).tickSize(-13).tickPadding(13).tickFormat(d3.format("d")))
    .call(styleAxis)
    .selectAll("text")
    .style("font-size", "18px");
  panel.append("g")
    .attr("transform", "translate(0," + yScale(3) + ")")
    .call(d3.axisTop(xScale).tickValues(xMinor).tickSize(-7).tickFormat(""))
    .call(styleAxis);
  panel.append("g")
    .attr("transform", "translate(0," + yScale(3) + ")")
    .call(d3.axisTop(xScale).tickValues(xMajor).tickSize(-13).tickFormat(""))
    .call(styleAxis);

  panel.append("g")
    .attr("transform", "translate(" + xScale(0) + ",0)")
    .call(d3.axisLeft(yScale).tickValues(yMinor).tickSize(-12).tickFormat(""))
    .call(styleAxis);
  panel.append("g")
    .attr("transform", "translate(" + xScale(0) + ",0)")
    .call(d3.axisLeft(yScale).tickValues(yMajor).tickSize(-23).tickPadding(8).tickFormat(d3.format("d")))
    .call(styleAxis)
    .selectAll("text")
    .style("font-size", "17px")
    .attr("dy", function(d) { return d === 3 ? "0.75em" : (d === 0 ? "0.1em" : "0.35em"); });
  panel.append("g")
    .attr("transform", "translate(" + xScale(30) + ",0)")
    .call(d3.axisRight(yScale).tickValues(yMinor).tickSize(-12).tickFormat(""))
    .call(styleAxis);
  panel.append("g")
    .attr("transform", "translate(" + xScale(30) + ",0)")
    .call(d3.axisRight(yScale).tickValues(yMajor).tickSize(-23).tickFormat(""))
    .call(styleAxis);

  // plot frame
  panel.append("rect")
    .attr("x", xScale(0))
    .attr("y", yScale(3))
    .attr("width", xScale(30) - xScale(0))
    .attr("height", yScale(0) - yScale(3))
    .attr("fill", "none")
    .attr("stroke", "#000")
    .attr("stroke-width", 2);

  // station title
  panel.append("text")
    .attr("x", (xScale(0) + xScale(30)) / 2)
    .attr("y", yScale(3) - 7)
    .attr("text-anchor", "middle")
    .attr("fill", textColor)
    .style("font-family", fontFamily)
    .style("font-size", "23px")
    .style("letter-spacing", "1.5px")
    .text(name);

  if (col === 0) {
    panel.append("text")
      .attr("transform", "translate(26," + (yScale(1.5)) + ") rotate(-90)")
      .attr("text-anchor", "middle")
      .attr("fill", textColor)
      .style("font-family", fontFamily)
      .style("font-size", "16.5px")
      .text("Aerosol Optical Depth");
  }
  if (row === rowTop.length - 1) {
    panel.append("text")
      .attr("x", (xScale(0) + xScale(30)) / 2)
      .attr("y", yScale(0) + 46)
      .attr("text-anchor", "middle")
      .attr("fill", textColor)
      .style("font-family", fontFamily)
      .style("font-size", "19px")
      .style("letter-spacing", "1.4px")
      .text("Day of Month (03/2005)");
  }

  // model line
  var line = d3.line()
    .x(function(d) { return xScale(d[0]); })
    .y(function(d) { return yScale(d[1]); });

  panel.append("path")
    .datum(modelSeries[i])
    .attr("d", line)
    .attr("fill", "none")
    .attr("stroke", "#1e1efa")
    .attr("stroke-width", 2.3)
    .attr("stroke-linejoin", "round");

  // AERONET observations
  panel.append("g")
    .selectAll("path")
    .data(aeronetSeries[i])
    .enter()
    .append("path")
    .attr("transform", function(d) { return "translate(" + xScale(d[0]) + "," + yScale(d[1]) + ")"; })
    .attr("d", d3.symbol().type(asterisk).size(64))
    .attr("fill", "none")
    .attr("stroke", "#000")
    .attr("stroke-width", 2.4)
    .attr("stroke-linecap", "square");

  // MODIS retrievals
  panel.append("g")
    .selectAll("path")
    .data(modisSeries[i])
    .enter()
    .append("path")
    .attr("transform", function(d) { return "translate(" + xScale(d[0]) + "," + yScale(d[1]) + ")"; })
    .attr("d", d3.symbol().type(diamond).size(121))
    .attr("fill", "none")
    .attr("stroke", "#f23434")
    .attr("stroke-width", 1.3);
});
</script>
</body>
</html>
